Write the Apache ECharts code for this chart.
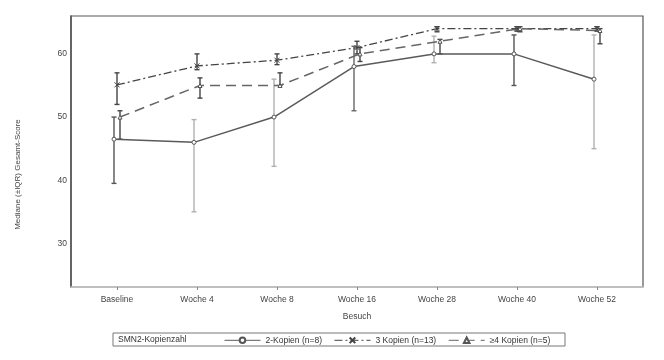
<!DOCTYPE html>
<html><head><meta charset="utf-8">
<script src="https://cdn.jsdelivr.net/npm/echarts@6/dist/echarts.min.js"></script>
<style>html,body{margin:0;padding:0;background:#fff}#c{width:664px;height:360px}</style>
</head><body><div id="c"></div>
<script>
const categories = ['Baseline','Woche 4','Woche 8','Woche 16','Woche 28','Woche 40','Woche 52'];
const yTicks = [30, 40, 50, 60];
// 2-Kopien (n=8)
const med2 = [46.5, 46, 50, 58, 60, 60, 56];
const lo2  = [39.5, 35, 42.2, 51, 58.6, 55, 45];
const hi2  = [50, 49.6, 56, 61.2, 62.8, 63, 63];
// 3 Kopien (n=13)
const med3 = [55.1, 58.1, 59, 61, 64, 64, 64];
const lo3  = [52, 57.5, 58.3, 60, 63.5, 63.6, 63.6];
const hi3  = [57, 60, 60, 62, 64.3, 64.3, 64.3];
// >=4 Kopien (n=5)
const med4 = [50, 55, 55, 60, 62, 64, 63.7];
const lo4  = [46.5, 53, 55, 58.8, 60, 63.5, 61.6];
const hi4  = [51, 56.2, 57, 61, 62.3, 64.3, 64];

const names = ['2-Kopien (n=8)', '3 Kopien (n=13)', '≥4 Kopien (n=5)'];
const errColor2 = ['#555','#b0b0b0','#b0b0b0','#666','#b0b0b0','#555','#b0b0b0'];
const FONT = 'Liberation Sans, Arial, sans-serif';
const OFF = [-0.0375, 0, 0.0375];

function pts(arr, k){ return arr.map((v,i)=>[i+OFF[k], v]); }
function errs(lo, hi, k){ return lo.map((v,i)=>[i+OFF[k], v, hi[i], i]); }

function errSeries(lo, hi, k, colorFn){
  return {
    type:'custom', silent:true, z:1,
    data: errs(lo, hi, k),
    encode:{x:0, y:[1,2]},
    renderItem:function(params, api){
      const x = api.value(0), a = api.coord([x, api.value(1)]), b = api.coord([x, api.value(2)]);
      const col = colorFn(api.value(3));
      const st = {stroke: col, lineWidth: 1.4};
      const w = 2.5;
      return {type:'group', children:[
        {type:'line', shape:{x1:a[0],y1:a[1],x2:b[0],y2:b[1]}, style:st},
        {type:'line', shape:{x1:a[0]-w,y1:a[1],x2:a[0]+w,y2:a[1]}, style:st},
        {type:'line', shape:{x1:b[0]-w,y1:b[1],x2:b[0]+w,y2:b[1]}, style:st}
      ]};
    }
  };
}

const chart = echarts.init(document.getElementById('c'), null, {renderer:'canvas'});
chart.setOption({
  animation:false,
  textStyle:{fontFamily:FONT},
  grid:{left:71, right:21, top:16, bottom:73, show:true, borderColor:'#555', borderWidth:1.2},
  xAxis:{
    type:'value', min:-0.575, max:6.575,
    name:'Besuch', nameLocation:'middle', nameGap:25,
    nameTextStyle:{fontSize:8.5, color:'#444', fontFamily:FONT},
    axisLine:{show:true, onZero:false, lineStyle:{color:'#c8c8c8', width:1.5}},
    axisTick:{show:true, customValues:[0,1,2,3,4,5,6], length:3, lineStyle:{color:'#888'}},
    axisLabel:{customValues:[0,1,2,3,4,5,6], formatter:v=>categories[Math.round(v)], fontSize:8.5, color:'#444', margin:8, fontFamily:FONT},
    splitLine:{show:false}
  },
  yAxis:{
    type:'value', min:23.1, max:66,
    axisLine:{show:true, onZero:false, lineStyle:{color:'#555', width:1.5}},
    axisTick:{show:false},
    axisLabel:{customValues:yTicks, fontSize:8.5, color:'#444', margin:4, fontFamily:FONT},
    splitLine:{show:false}
  },
  legend:{
    left:219, top:330, itemWidth:36, itemHeight:7, itemGap:12,
    lineStyle:{width:1},
    textStyle:{fontSize:8.5, color:'#333', fontFamily:FONT},
    data:names
  },
  graphic:[
    {type:'rect', shape:{x:113, y:333, width:452, height:13}, style:{fill:'none', stroke:'#777', lineWidth:1}},
    {type:'text', x:118, y:339.5, style:{text:'SMN2-Kopienzahl', fontSize:8.5, fill:'#333', fontFamily:FONT, verticalAlign:'middle'}},
    {type:'text', x:17.5, y:174.5, rotation:Math.PI/2, style:{text:'Mediane (±IQR) Gesamt-Score', fontSize:8, fill:'#444', fontFamily:FONT, align:'center', verticalAlign:'middle'}}
  ],
  series:[
    errSeries(lo2, hi2, 0, i=>errColor2[i]),
    errSeries(lo3, hi3, 1, ()=>'#444'),
    errSeries(lo4, hi4, 2, ()=>'#444'),
    {name:names[0], type:'line', z:3, data:pts(med2,0), symbol:'circle', symbolSize:4,
     lineStyle:{color:'#5a5a5a', width:1.5}, itemStyle:{color:'#fff', borderColor:'#555', borderWidth:1}},
    {name:names[1], type:'line', z:3, data:pts(med3,1), symbol:'path://M0,0L10,10M10,0L0,10', symbolSize:5,
     lineStyle:{color:'#444', width:1.3, type:[8,3,2,3]}, itemStyle:{color:'none', borderColor:'#444', borderWidth:1}},
    {name:names[2], type:'line', z:3, data:pts(med4,2), symbol:'triangle', symbolSize:4,
     lineStyle:{color:'#666', width:1.5, type:[10,6]}, itemStyle:{color:'#fff', borderColor:'#555', borderWidth:1}}
  ]
});
</script></body></html>
